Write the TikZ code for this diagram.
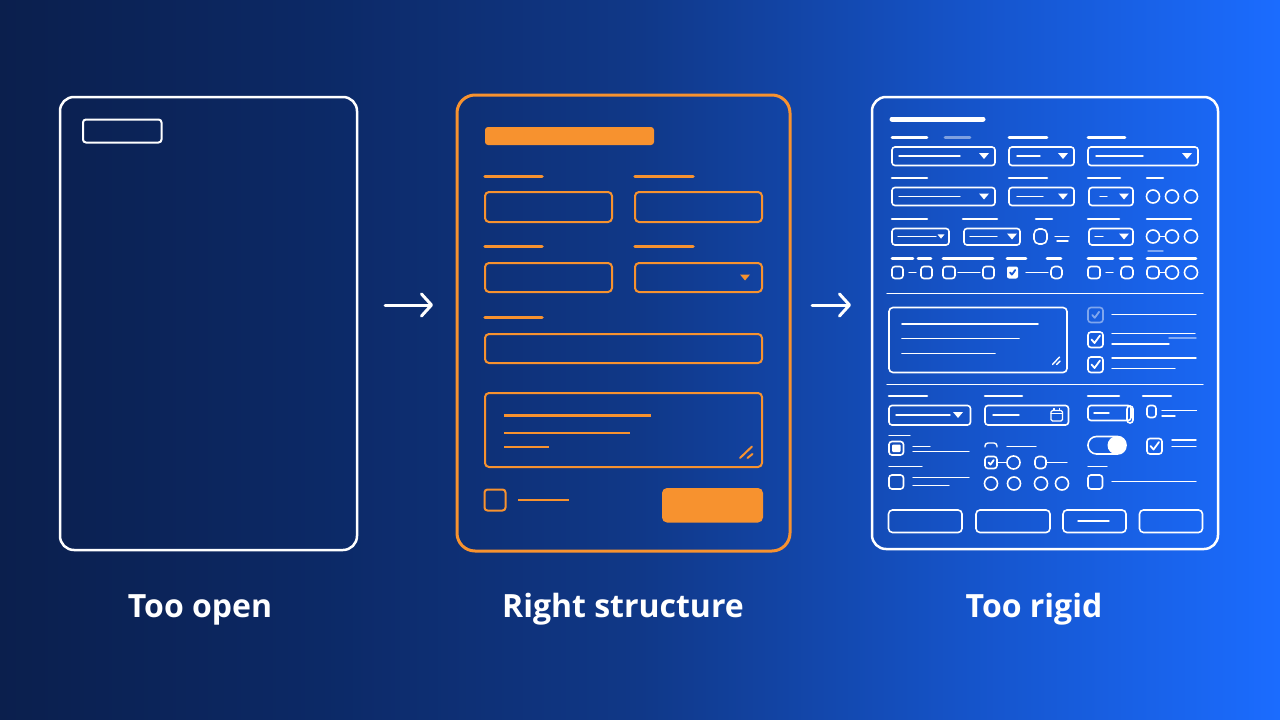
\documentclass[tikz,border=0pt]{standalone}
\usepackage{fontspec}
\setmainfont{Open Sans}
\usepackage{tikz}
\usetikzlibrary{arrows.meta}
\definecolor{bgA}{HTML}{0B1F4D}
\definecolor{bgB}{HTML}{0C2966}
\definecolor{bgC}{HTML}{103888}
\definecolor{bgD}{HTML}{1553C8}
\definecolor{bgE}{HTML}{1B6CFF}
\definecolor{formorange}{HTML}{F7922F}
\definecolor{tickblue}{HTML}{1757D6}
\pgfdeclarehorizontalshading{bgsweep}{100bp}{color(0bp)=(bgA); color(25bp)=(bgA); color(37.5bp)=(bgB); color(50bp)=(bgC); color(62.5bp)=(bgD); color(75bp)=(bgE); color(100bp)=(bgE)}
\tikzset{
    panel/.style={draw, rounded corners=14pt, line width=2.5pt, inner sep=0pt},
    wfield/.style={draw=white, line width=1.6pt, rounded corners=3pt},
    wline/.style={white, line width=1.4pt, line cap=round},
    wlabel/.style={white, line width=2.6pt, line cap=round},
    ofield/.style={draw=formorange, line width=2pt, rounded corners=4pt},
    olabel/.style={formorange, line width=3.5pt, line cap=round},
    faint/.style={opacity=0.45},
    flow/.style={white, line width=3pt, line cap=round, -{Straight Barb[round,length=10pt,width=22pt]}},
    caption/.style={text=white, font=\fontsize{32}{38}\selectfont\bfseries, anchor=base},
    ddarrow/.pic={\fill (-5,-3) -- (5,-3) -- (0,3) -- cycle;},
    tick/.pic={\draw[line width=1.8pt, line cap=round, line join=round] (-4,0) -- (-1,3.5) -- (4.5,-4);}
}
\begin{document}
\begin{tikzpicture}[x=1pt,y=-1pt]
    \shade[shading=bgsweep] (0,0) rectangle (1280,720);
    \useasboundingbox (0,0) rectangle (1280,720);
    \node[panel, white, minimum width=297, minimum height=453] (openform) at (208.5,323.5) {};
    \node[panel, formorange, line width=3pt, rounded corners=18pt, minimum width=333, minimum height=456] (goodform) at (623.5,323) {};
    \node[panel, white, minimum width=346, minimum height=452] (rigidform) at (1045,323) {};
    \node[caption] (openlabel) at (200,617) {Too open};
    \node[caption] (goodlabel) at (623,617) {Right structure};
    \node[caption] (rigidlabel) at (1034,617) {Too rigid};
    \coordinate (flowAs) at (385,305);
    \coordinate (flowAe) at (433,305);
    \coordinate (flowBs) at (812,305);
    \coordinate (flowBe) at (851,305);
    \draw[flow] (flowAs) -- (flowAe);
    \draw[flow] (flowBs) -- (flowBe);
    \draw[wfield, line width=2pt] (83,119.5) rectangle (161.5,142.5);
    \fill[formorange, rounded corners=3pt] (485,127) rectangle (654,145);
    \draw[olabel] (485,176.5) -- (542,176.5) (635,176.5) -- (693,176.5);
    \draw[olabel] (485,246.5) -- (542,246.5) (635,246.5) -- (693,246.5);
    \draw[olabel] (485,317.5) -- (542,317.5);
    \draw[ofield] (485,192) rectangle (612,222) (635,192) rectangle (762,222);
    \draw[ofield] (485,263) rectangle (612,292) (635,263) rectangle (762,292);
    \pic[formorange] at (745,277.5) {ddarrow};
    \draw[ofield] (485,334) rectangle (762,363);
    \draw[ofield] (485,393) rectangle (762,467);
    \draw[formorange, line width=2.5pt] (504,415.5) -- (651,415.5) (504,433) -- (630,433) (504,447) -- (549,447);
    \draw[formorange, line width=2pt, line cap=round] (740,458) -- (752,446.5) (747.5,458) -- (752.5,454);
    \draw[ofield, rounded corners=3pt] (484.5,489.5) rectangle (505.5,510.5);
    \draw[formorange, line width=2.5pt] (518,500) -- (569,500);
    \fill[formorange, rounded corners=5pt] (662,488) rectangle (763,522.5);
    \draw[wlabel, line width=5pt] (892,119) -- (983,119);
    \draw[wlabel] (892,137.5) -- (927,137.5) (1009,137.5) -- (1047,137.5) (1088,137.5) -- (1125,137.5);
    \draw[wlabel, faint] (945,137.5) -- (970,137.5);
    \draw[wfield] (892,147) rectangle (995,165.5) (1009,147) rectangle (1074,165.5) (1088,147) rectangle (1198,165.5);
    \draw[wline] (899,156) -- (960,156) (1017,156) -- (1040,156) (1096,156) -- (1143,156);
    \pic[white] at (984,156) {ddarrow};
    \pic[white] at (1063,156) {ddarrow};
    \pic[white] at (1187,156) {ddarrow};
    \draw[wlabel] (892,178) -- (927,178) (1009,178) -- (1047,178) (1088,178) -- (1120,178) (1147,178) -- (1163,178);
    \draw[wfield] (892,187.5) rectangle (995,205.5) (1009,187.5) rectangle (1074,205.5) (1089,187.5) rectangle (1133,205.5);
    \draw[wline] (899,196.5) -- (960,196.5) (1017,196.5) -- (1043,196.5) (1100,196.5) -- (1107,196.5);
    \pic[white] at (984,196.5) {ddarrow};
    \pic[white] at (1063,196.5) {ddarrow};
    \pic[white] at (1124,196.5) {ddarrow};
    \draw[wfield] (1153,196.5) circle (6.5pt) (1172,196.5) circle (6.5pt) (1191,196.5) circle (6.5pt);
    \draw[wlabel] (892,219) -- (927,219) (963,219) -- (997,219) (1036,219) -- (1052,219) (1088,219) -- (1119,219) (1147,219) -- (1191,219);
    \draw[wfield] (892,228.5) rectangle (949,245) (964,228.5) rectangle (1020,245) (1089,228.5) rectangle (1133,245);
    \draw[wline] (898,236.5) -- (936,236.5) (970,236.5) -- (997,236.5) (1095,236.5) -- (1103,236.5);
    \pic[white, scale=0.7] at (941,236.5) {ddarrow};
    \pic[white] at (1012,236.5) {ddarrow};
    \pic[white] at (1124,236.5) {ddarrow};
    \draw[wfield, rounded corners=5pt] (1034,229) rectangle (1047,244);
    \draw[wline] (1055,236.5) -- (1069,236.5) (1057,241) -- (1068,241);
    \draw[wfield] (1153,236.5) circle (6.5pt) (1172,236.5) circle (6.5pt) (1191,236.5) circle (6.5pt);
    \draw[wline] (1159.5,236.5) -- (1165.5,236.5);
    \draw[wlabel] (892,258.5) -- (913,258.5) (918,258.5) -- (931,258.5) (943,258.5) -- (993,258.5) (1007,258.5) -- (1026,258.5) (1047,258.5) -- (1061,258.5);
    \draw[wlabel] (1088,258.5) -- (1113,258.5) (1120,258.5) -- (1132,258.5) (1147,258.5) -- (1196,258.5);
    \draw[wline, faint] (1148,251) -- (1163,251);
    \draw[wfield] (892,266.5) rectangle (903,278.5) (921,266.5) rectangle (932,278.5);
    \draw[wline] (909,272.5) -- (916,272.5);
    \draw[wfield] (943,266.5) rectangle (955,278.5) (983,266.5) rectangle (994,278.5);
    \draw[wline] (958,272.5) -- (980,272.5);
    \fill[white, rounded corners=2pt] (1007,266.5) rectangle (1018,278.5);
    \pic[tickblue, scale=0.6] at (1012.5,272.5) {tick};
    \draw[wline] (1026,272.5) -- (1048,272.5);
    \draw[wfield, rounded corners=4pt] (1051,266.5) rectangle (1062,278.5);
    \draw[wfield] (1088,266.5) rectangle (1100,278.5);
    \draw[wline] (1106,272.5) -- (1113,272.5);
    \draw[wfield, rounded corners=4pt] (1121,266.5) rectangle (1133,278.5);
    \draw[wfield, rounded corners=4pt] (1147,266.5) rectangle (1159,278.5);
    \draw[wline] (1159,272.5) -- (1166,272.5);
    \draw[wfield] (1172,272.5) circle (6.5pt) (1191,272.5) circle (6.5pt);
    \draw[wline] (887,293.5) -- (1203,293.5);
    \draw[wfield, rounded corners=4pt] (889,307.5) rectangle (1067,372.5);
    \draw[wline, line width=1.8pt] (902,324) -- (1038,324) (902,338.5) -- (1019,338.5) (902,353.5) -- (995,353.5);
    \draw[wline] (1052.5,364.5) -- (1059.5,357) (1056.5,364.5) -- (1060,361);
    \draw[wfield, faint] (1088,307.5) rectangle (1103,322.5);
    \pic[white, faint, scale=0.8] at (1095.5,315) {tick};
    \draw[wfield] (1088,332) rectangle (1103,347.5) (1088,357) rectangle (1103,372.5);
    \pic[white] at (1095.5,339.5) {tick};
    \pic[white] at (1095.5,364.5) {tick};
    \draw[wline] (1112,314.5) -- (1196,314.5) (1112,333.5) -- (1195,333.5) (1112,344) -- (1169,344) (1112,358) -- (1196,358) (1112,368.5) -- (1175,368.5);
    \draw[wline, faint] (1169,338) -- (1196,338);
    \draw[wline] (887,384.5) -- (1203,384.5);
    \draw[wlabel] (889,396) -- (927,396) (985,396) -- (1022,396) (1088,396) -- (1119,396) (1143,396) -- (1171,396);
    \draw[wfield] (889,405.5) rectangle (970.5,425) (985,405.5) rectangle (1068.5,425);
    \draw[wline] (896,415) -- (950,415) (993,415) -- (1019,415);
    \pic[white] at (958,415) {ddarrow};
    \draw[wfield, rounded corners=1.5pt, line width=1.3pt] (1051,410.5) rectangle (1062.5,421);
    \draw[wline, line width=1.2pt] (1051,413.5) -- (1062.5,413.5) (1054,408.5) -- (1054,410.5) (1059.5,408.5) -- (1059.5,410.5);
    \draw[wfield] (1088,405.5) rectangle (1131,420.5);
    \draw[wline] (1094,413) -- (1109,413);
    \draw[wfield, rounded corners=3pt] (1127,406) rectangle (1133,423);
    \draw[wfield] (1147,405.5) rectangle (1156,417.5);
    \draw[wline] (1162,410.5) -- (1196.5,410.5) (1162,416) -- (1175,416);
    \draw[wline] (889,435.5) -- (910,435.5) (889,466.5) -- (922,466.5) (1088,466.5) -- (1107,466.5);
    \draw[wfield] (889,441.5) rectangle (903.5,455);
    \fill[white, rounded corners=1pt] (892,444.5) rectangle (900.5,452);
    \draw[wline] (913,446.5) -- (930,446.5) (913,451.5) -- (969,451.5);
    \draw[wline, rounded corners=3pt] (985,447) -- (985,443) -- (997,443) -- (997,447);
    \draw[wline] (1007,446.5) -- (1036,446.5);
    \draw[wfield, rounded corners=8.5pt] (1088,436.5) rectangle (1126,454);
    \fill[white] (1116.5,445.3) circle (9pt);
    \draw[wfield] (1147,438.5) rectangle (1162,454);
    \pic[white] at (1154.5,446) {tick};
    \draw[wline] (1172,440) -- (1196,440) (1172,446.5) -- (1196,446.5);
    \draw[wfield] (985,456.5) rectangle (997,468.5);
    \pic[white, scale=0.6] at (991,462.5) {tick};
    \draw[wline] (997,462.5) -- (1007,462.5);
    \draw[wfield] (1013.5,462.5) circle (6.5pt);
    \draw[wfield, rounded corners=4pt] (1035,456.5) rectangle (1046,468.5);
    \draw[wline] (1046,462.5) -- (1067,462.5);
    \draw[wfield] (889,475) rectangle (903.5,489) (1088,475) rectangle (1102.5,489);
    \draw[wline] (913,477.5) -- (969,477.5) (913,485.5) -- (949,485.5) (1112,481.5) -- (1196,481.5);
    \draw[wfield] (991,483.5) circle (6.5pt) (1014,483.5) circle (6.5pt) (1041,483.5) circle (6.5pt) (1062,483.5) circle (6.5pt);
    \draw[wfield, rounded corners=4pt] (888.5,510) rectangle (962,532.5) (976,510) rectangle (1050,532.5) (1063,510) rectangle (1126,532.5) (1139.5,510) rectangle (1202.5,532.5);
    \draw[wline] (1078,521) -- (1109,521);
\end{tikzpicture}
\end{document}
